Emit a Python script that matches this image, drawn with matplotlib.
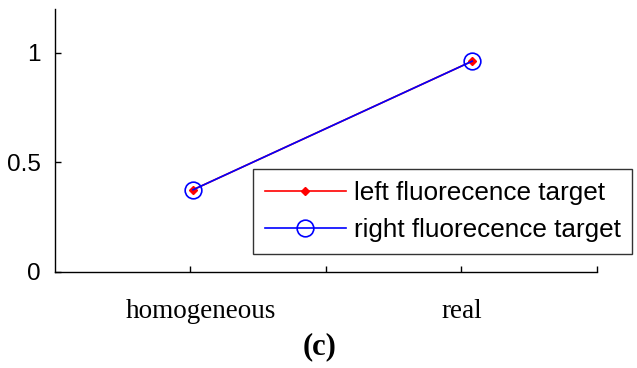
import matplotlib
matplotlib.use("Agg")
import matplotlib.pyplot as plt

# data
categories = ['homogeneous', 'real']
x_pos = [1.01, 2.04]
left_target = [0.375, 0.962]
right_target = [0.375, 0.962]
y_ticks = [0, 0.5, 1]
y_tick_labels = ['0', '0.5', '1']

fig = plt.figure(figsize=(6.37, 3.68), dpi=100)
ax = fig.add_axes([0.086, 0.261, 0.851, 0.7145])

ax.plot(x_pos, left_target, color='red', marker='D', markersize=4, lw=1.2,
        label='left fluorecence target')
ax.plot(x_pos, right_target, color='blue', marker='o', markersize=12, lw=1.2,
        markerfacecolor='none', markeredgewidth=1.2, label='right fluorecence target')

ax.set_xlim(0.5, 2.5)
ax.set_ylim(0, 1.2)
ax.set_xticks([1, 1.5, 2, 2.5])
ax.set_xticklabels([])
ax.set_yticks(y_ticks)
ax.set_yticklabels(y_tick_labels, fontfamily='Liberation Sans', fontsize=17.5)
ax.tick_params(direction='in', length=4, width=1, colors='black')
ax.tick_params(axis='y', pad=10)

for s in ['top', 'right']:
    ax.spines[s].set_visible(False)
for s in ['left', 'bottom']:
    ax.spines[s].set_linewidth(1)

# category labels in serif below the axis
for xc, lab in zip([1.04, 2.0], categories):
    ax.text(xc, -0.15, lab, ha='center', va='center', fontsize=19.5,
            fontfamily='Liberation Serif', transform=ax.get_xaxis_transform())

fig.text(0.502, 0.058, '(c)', ha='center', va='center', fontsize=22,
         fontweight='bold', fontfamily='Liberation Serif')

leg = ax.legend(loc='upper left', bbox_to_anchor=(253 / 637, 1 - 169 / 368),
                bbox_transform=fig.transFigure, prop={'family': 'Liberation Sans', 'size': 18.8},
                frameon=True, fancybox=False, handlelength=3.1, borderpad=0.45,
                labelspacing=0.5, handletextpad=0.3, borderaxespad=0)
leg.get_frame().set_edgecolor('black')
leg.get_frame().set_linewidth(1)

fig.savefig('out.png', dpi=100)
